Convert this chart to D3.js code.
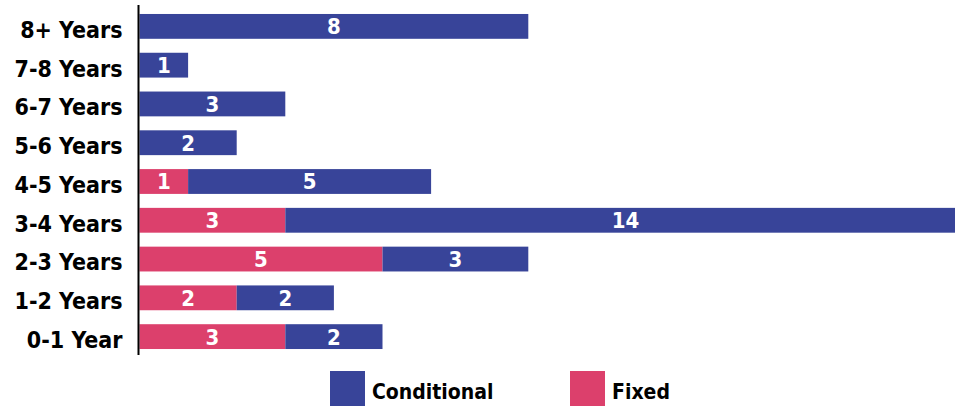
<!DOCTYPE html>
<html>
<head>
<meta charset="utf-8">
<script src="https://cdn.jsdelivr.net/npm/d3@7"></script>
<style>
  html, body { margin: 0; padding: 0; background: #fff; overflow: hidden; }
  svg { display: block; }
  text { font-family: "DejaVu Sans Condensed", "DejaVu Sans", sans-serif; font-weight: bold; }
</style>
</head>
<body>
<svg id="chart" width="955" height="406"></svg>
<script>
// Tenure bands, top to bottom
const categories = ["8+ Years", "7-8 Years", "6-7 Years", "5-6 Years", "4-5 Years",
                    "3-4 Years", "2-3 Years", "1-2 Years", "0-1 Year"];
// Count of fixed-rate items per band (drawn first, from the axis)
const fixedValues = [0, 0, 0, 0, 1, 3, 5, 2, 3];
// Count of conditional items per band (stacked after fixed)
const conditionalValues = [8, 1, 3, 2, 5, 14, 3, 2, 2];
const seriesNames = ["Fixed", "Conditional"];
const legendOrder = ["Conditional", "Fixed"];

const colors = { Fixed: "#dc406c", Conditional: "#384499" };

const svg = d3.select("#chart");
const margin = { left: 139.5, top: 7 };

const rows = categories.map((c, i) => ({
  category: c,
  Fixed: fixedValues[i],
  Conditional: conditionalValues[i]
}));

const stacked = d3.stack().keys(seriesNames)(rows);

// Scale runs a little past the right edge, so the widest bar is cut off there
const x = d3.scaleLinear().domain([0, 17]).range([margin.left, margin.left + 17 * 48.6]);
const y = d3.scaleBand()
  .domain(categories)
  .range([margin.top, 356])
  .paddingInner(0.36)
  .paddingOuter(0.18);

// Bars
const layers = svg.append("g").selectAll("g")
  .data(stacked)
  .join("g")
  .attr("fill", d => colors[d.key]);

layers.selectAll("rect")
  .data(d => d.filter(s => s[1] - s[0] > 0))
  .join("rect")
  .attr("x", s => x(s[0]))
  .attr("y", s => y(s.data.category))
  .attr("width", s => x(s[1]) - x(s[0]))
  .attr("height", y.bandwidth());

// Value labels inside each segment
const labels = svg.append("g");
stacked.forEach(layer => {
  layer.forEach(s => {
    const v = s[1] - s[0];
    if (v <= 0) return;
    labels.append("text")
      .attr("x", (x(s[0]) + x(s[1])) / 2)
      .attr("y", y(s.data.category) + y.bandwidth() / 2)
      .attr("dy", "0.36em")
      .attr("text-anchor", "middle")
      .attr("fill", "#fff")
      .attr("font-size", 22)
      .text(v);
  });
});

// Category axis: labels sit on the bar's bottom edge
const axis = d3.axisLeft(y).tickSize(0).tickPadding(17);
const ag = svg.append("g")
  .attr("transform", `translate(${margin.left},0)`)
  .call(axis);
ag.select(".domain").remove();
ag.selectAll("text")
  .attr("font-size", 23)
  .attr("font-family", "'DejaVu Sans Condensed', 'DejaVu Sans', sans-serif")
  .attr("font-weight", "bold")
  .attr("fill", "#000")
  .attr("dy", y.bandwidth() / 2 - 1);

svg.append("line")
  .attr("x1", margin.left - 1).attr("x2", margin.left - 1)
  .attr("y1", 5).attr("y2", 355)
  .attr("stroke", "#000")
  .attr("stroke-width", 2);

// Legend
const legendX = { Conditional: 330, Fixed: 570 };
const lg = svg.append("g");
legendOrder.forEach(k => {
  lg.append("rect")
    .attr("x", legendX[k]).attr("y", 371)
    .attr("width", 35).attr("height", 35)
    .attr("fill", colors[k]);
  lg.append("text")
    .attr("x", legendX[k] + 42).attr("y", 399)
    .attr("font-size", 21)
    .attr("fill", "#000")
    .text(k);
});
</script>
</body>
</html>
